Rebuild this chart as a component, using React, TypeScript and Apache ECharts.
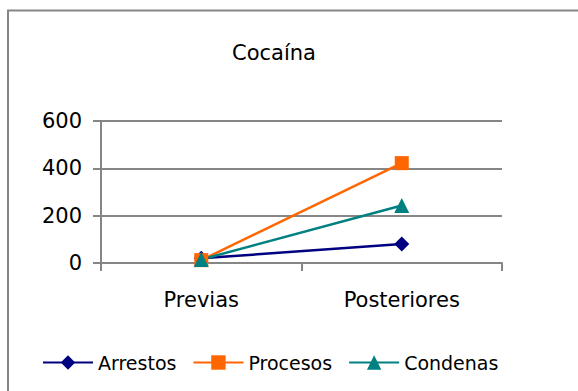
import React, { useEffect, useRef } from "react";
import * as echarts from "echarts";

const categories = ["Previas", "Posteriores"];
const arrestos = [20, 80];
const procesos = [12, 422];
const condenas = [15, 243];
const yTicks = { min: 0, max: 600, interval: 200 };

export default function App() {
  const ref = useRef<HTMLDivElement>(null);
  useEffect(() => {
    const chart = echarts.init(ref.current!, null, { renderer: "svg" });
    const font = "DejaVu Sans";
    const gray = "#868686";
    chart.setOption({
      animation: false,
      backgroundColor: "#ffffff",
      textStyle: { fontFamily: font },
      title: {
        text: "Cocaína",
        left: 269,
        textAlign: "center",
        top: 37,
        textStyle: { fontFamily: font, fontSize: 21, fontWeight: "normal", color: "#000" },
      },
      graphic: [
        {
          type: "rect",
          shape: { x: 8, y: 10.5, width: 700, height: 500 },
          style: { fill: "none", stroke: gray, lineWidth: 2 },
          silent: true,
        },
      ],
      grid: { left: 101, right: 76, top: 121, bottom: 128, containLabel: false },
      xAxis: {
        type: "category",
        data: categories,
        boundaryGap: true,
        axisLine: { show: true, lineStyle: { color: gray, width: 2 } },
        axisTick: { show: true, interval: 0, length: 8, lineStyle: { color: gray, width: 2 } },
        axisLabel: { margin: 26, fontSize: 21, color: "#000", fontFamily: font },
        splitLine: { show: false },
      },
      yAxis: {
        type: "value",
        min: yTicks.min,
        max: yTicks.max,
        interval: yTicks.interval,
        axisLine: { show: true, lineStyle: { color: gray, width: 2 } },
        axisTick: { show: true, length: 8, lineStyle: { color: gray, width: 2 } },
        axisLabel: { margin: 19, fontSize: 21, color: "#000", fontFamily: font },
        splitLine: { show: true, lineStyle: { color: gray, width: 2 } },
      },
      legend: {
        left: 42,
        top: 353,
        padding: 0,
        itemWidth: 50,
        itemHeight: 18,
        itemGap: 16,
        textStyle: { fontSize: 19, color: "#000", fontFamily: font, padding: [0, 0, 0, 0] },
        data: ["Arrestos", "Procesos", "Condenas"],
      },
      series: [
        {
          name: "Arrestos",
          type: "line",
          data: arrestos,
          symbol: "diamond",
          symbolSize: 15,
          color: "#000080",
          lineStyle: { width: 2.5, color: "#000080" },
          itemStyle: { color: "#000080" },
        },
        {
          name: "Procesos",
          type: "line",
          data: procesos,
          symbol: "rect",
          symbolSize: 14,
          color: "#ff6600",
          lineStyle: { width: 2.5, color: "#ff6600" },
          itemStyle: { color: "#ff6600" },
        },
        {
          name: "Condenas",
          type: "line",
          data: condenas,
          symbol: "triangle",
          symbolSize: 15,
          color: "#008080",
          lineStyle: { width: 2.5, color: "#008080" },
          itemStyle: { color: "#008080" },
        },
      ],
    });
    return () => chart.dispose();
  }, []);
  return (
    <div
      ref={ref}
      style={{ position: "fixed", left: 0, top: 0, width: 578, height: 391 }}
    />
  );
}
